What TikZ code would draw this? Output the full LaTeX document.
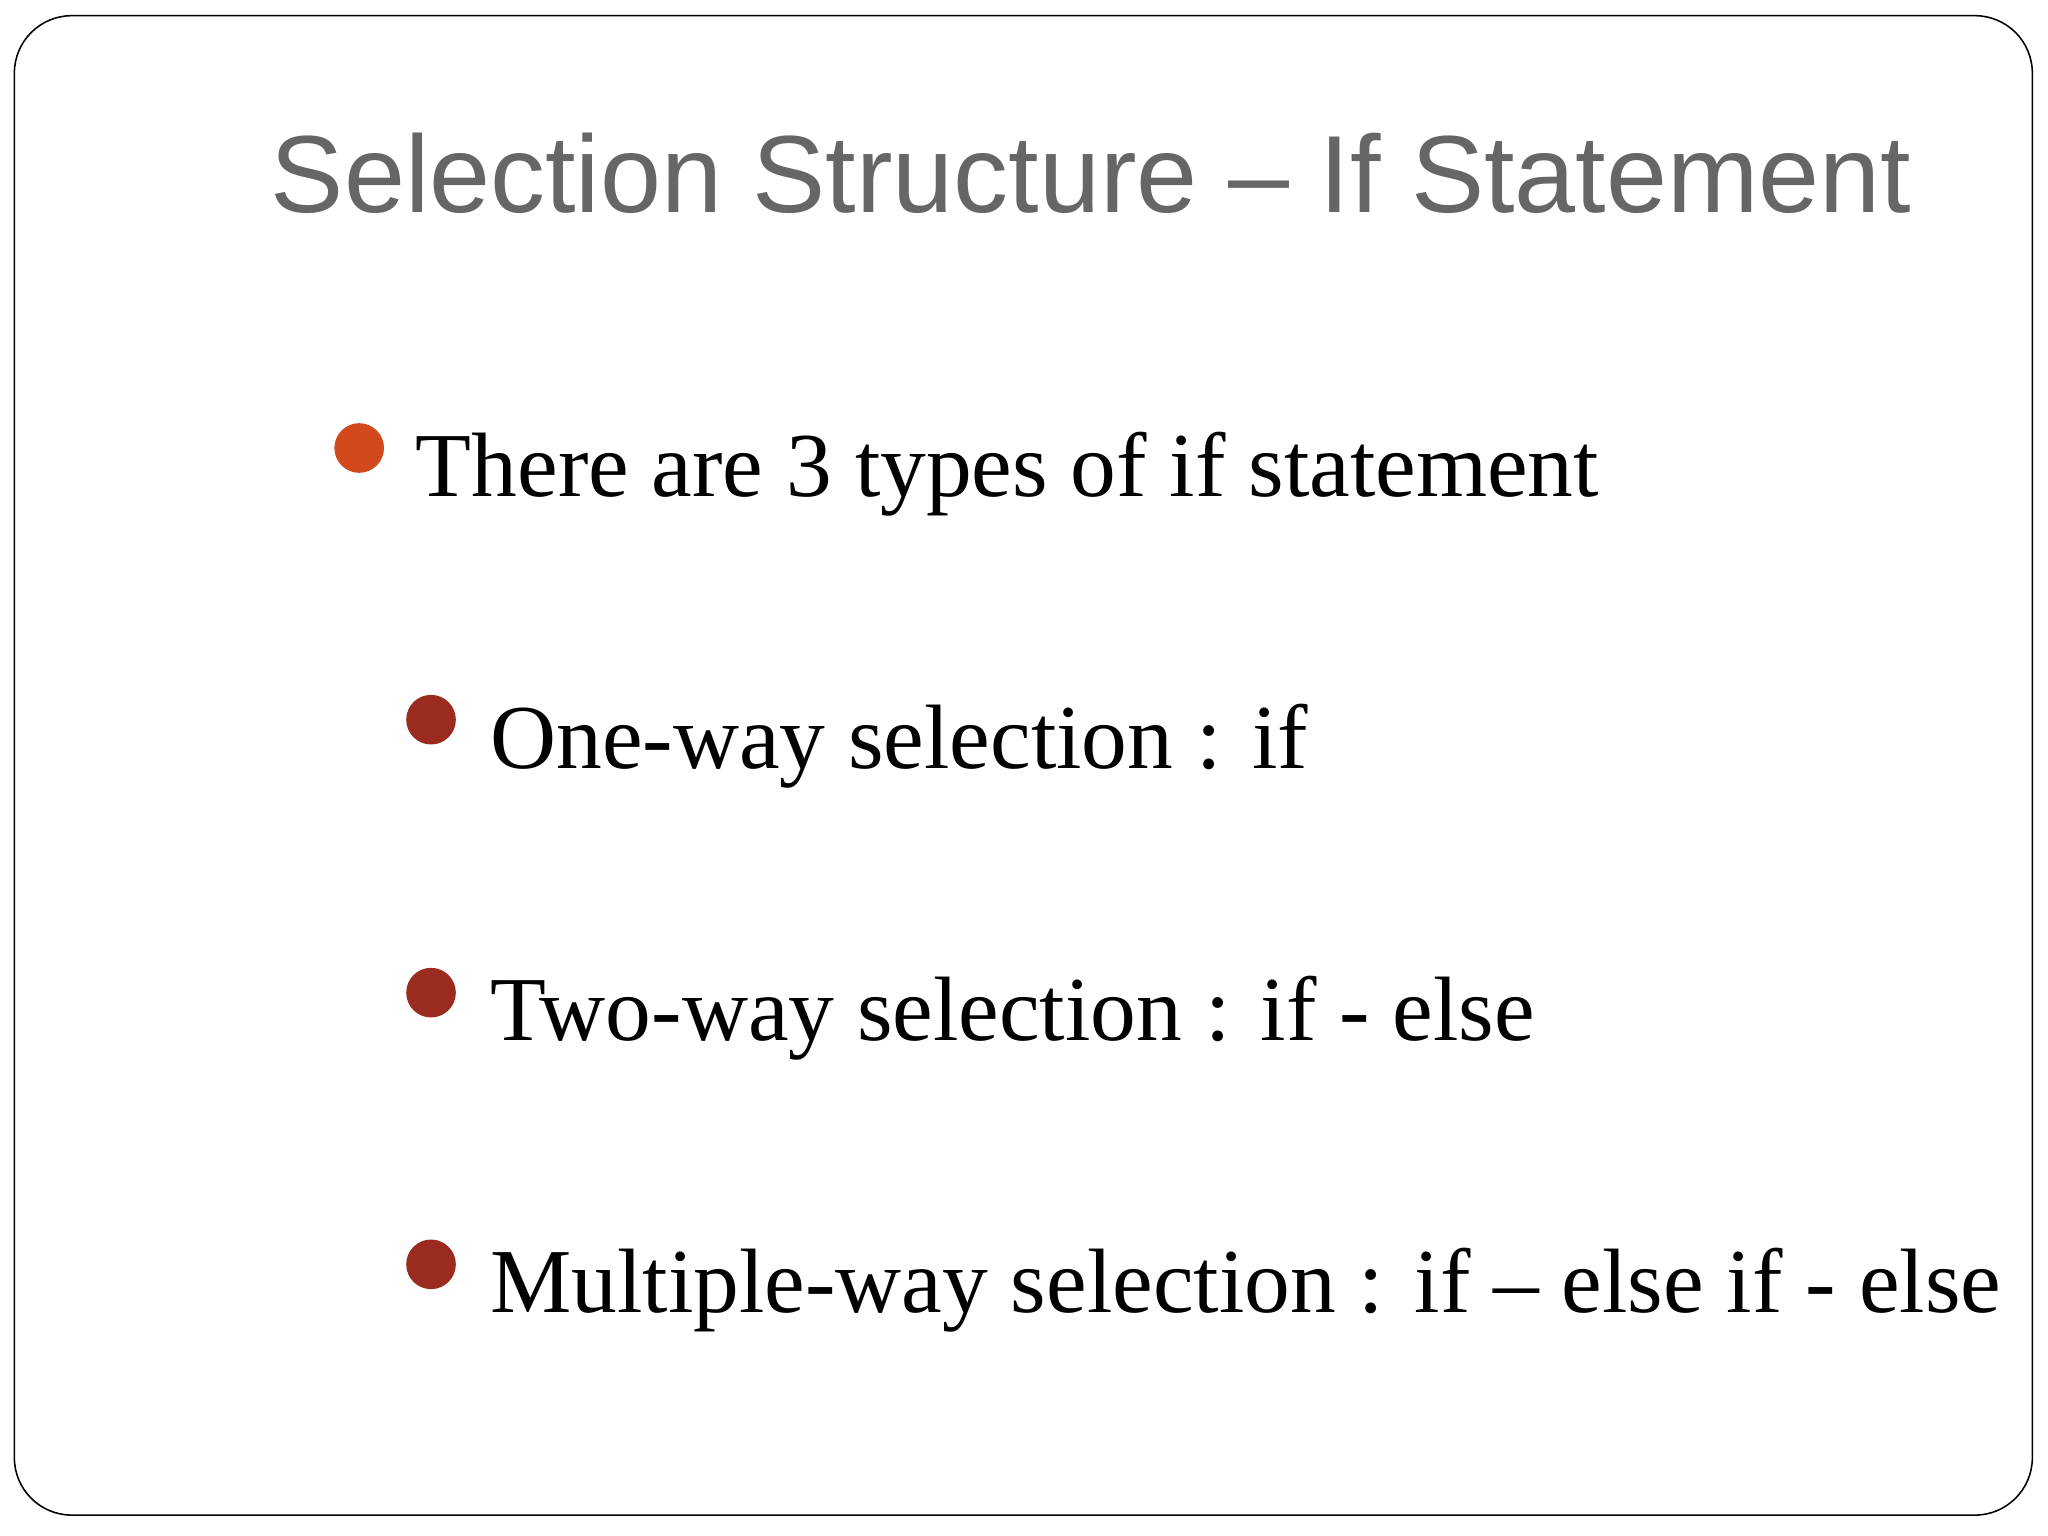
\documentclass[tikz,border=0pt]{standalone}
\usepackage{fontspec}
\setmainfont{Liberation Serif}
\newfontfamily\titlefont{Liberation Sans}
\definecolor{titlegray}{HTML}{666666}
\definecolor{dotorange}{HTML}{D24A1C}
\definecolor{dotred}{HTML}{9B2B1F}
\begin{document}
\begin{tikzpicture}[x=0.5pt,y=-0.5pt,
  bodytext/.style={anchor=base west,inner sep=0,font=\fontsize{35}{40}\selectfont},
  dot/.style={circle,inner sep=0,minimum size=19pt}]
\useasboundingbox (0,0) rectangle (1568,1176);
\draw[line width=0.6pt,rounded corners=22pt] (11,12) rectangle (1556,1160);
\node[anchor=base west,inner sep=0,text=titlegray,font=\titlefont\fontsize{42}{48}\selectfont] (title) at (207,163) {Selection Structure – If Statement};
\node[dot,fill=dotorange] (d1) at (275,343) {};
\node[bodytext] (t1) at (318,380) {There are 3 types of if statement};
\node[dot,fill=dotred] (d2) at (330,551) {};
\node[bodytext] (t2) at (375,588) {One-way selection : if};
\node[dot,fill=dotred] (d3) at (330,760) {};
\node[bodytext] (t3) at (375,797) {Two-way selection : if - else};
\node[dot,fill=dotred] (d4) at (330,968) {};
\node[bodytext] (t4) at (375,1005) {Multiple-way selection : if -- else if - else};
\end{tikzpicture}
\end{document}
